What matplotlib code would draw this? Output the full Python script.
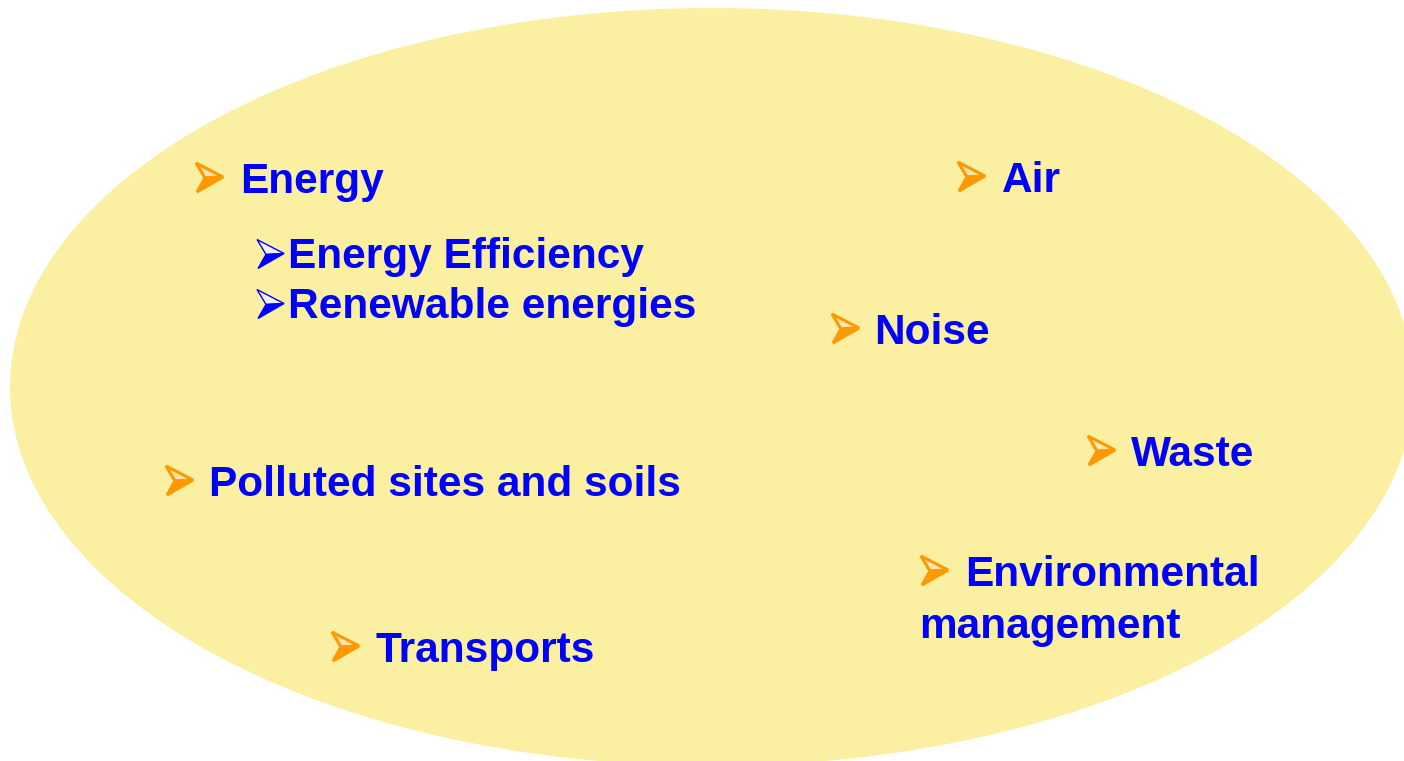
import matplotlib
matplotlib.use('Agg')
import matplotlib.pyplot as plt
from matplotlib.patches import Ellipse, Polygon

# topics shown in the ellipse
main_labels = ['Energy', 'Air', 'Noise', 'Waste', 'Polluted sites and soils',
               'Environmental', 'Transports']
main_pos = [(196, 193), (958, 192), (832, 344), (1088, 466), (166, 496),
            (921, 586), (332, 662)]
main_gap = [44, 44, 42, 43, 43, 44, 43]

sub_labels = ['Energy Efficiency', 'Renewable energies']
sub_pos = [(257, 268), (257, 318)]

extra_labels = ['management']
extra_pos = [(919, 638)]

BLUE = '#0000FF'
ORANGE = '#FF9900'
FILL = '#FBF0A2'
FS = 30.5


def arrowhead(ax, x, y, col, light, lw):
    # 3d-looking arrowhead: pale upper half, solid lower half
    up = [(x, y - 14), (x + 27, y), (x + 9, y + 1)]
    lo = [(x + 9, y + 1), (x + 27, y), (x + 1, y + 15)]
    ax.add_patch(Polygon(up, closed=True, facecolor=light, edgecolor=col,
                         linewidth=lw, joinstyle='miter'))
    ax.add_patch(Polygon(lo, closed=True, facecolor=col, edgecolor=col,
                         linewidth=lw, joinstyle='miter'))


fig = plt.figure(figsize=(14.04, 7.61), dpi=100)
ax = fig.add_axes([0, 0, 1, 1])
ax.set_xlim(0, 1404)
ax.set_ylim(761, 0)
ax.axis('off')

ax.add_patch(Ellipse((712, 387), 1404, 758, facecolor=FILL, edgecolor='none'))

for lab, (x, y), g in zip(main_labels, main_pos, main_gap):
    arrowhead(ax, x, y - 16, ORANGE, '#FFE6B0', 2.2)
    ax.text(x + g, y, lab, color=BLUE, fontsize=FS, family='Liberation Sans',
            weight='bold', ha='left', va='baseline')

for lab, (x, y) in zip(sub_labels, sub_pos):
    arrowhead(ax, x, y - 14.5, BLUE, '#F4F0F0', 1.0)
    ax.text(x + 31, y, lab, color=BLUE, fontsize=FS, family='Liberation Sans',
            weight='bold', ha='left', va='baseline')

for lab, (x, y) in zip(extra_labels, extra_pos):
    ax.text(x, y, lab, color=BLUE, fontsize=FS, family='Liberation Sans',
            weight='bold', ha='left', va='baseline')

fig.savefig('out.png', dpi=100)
